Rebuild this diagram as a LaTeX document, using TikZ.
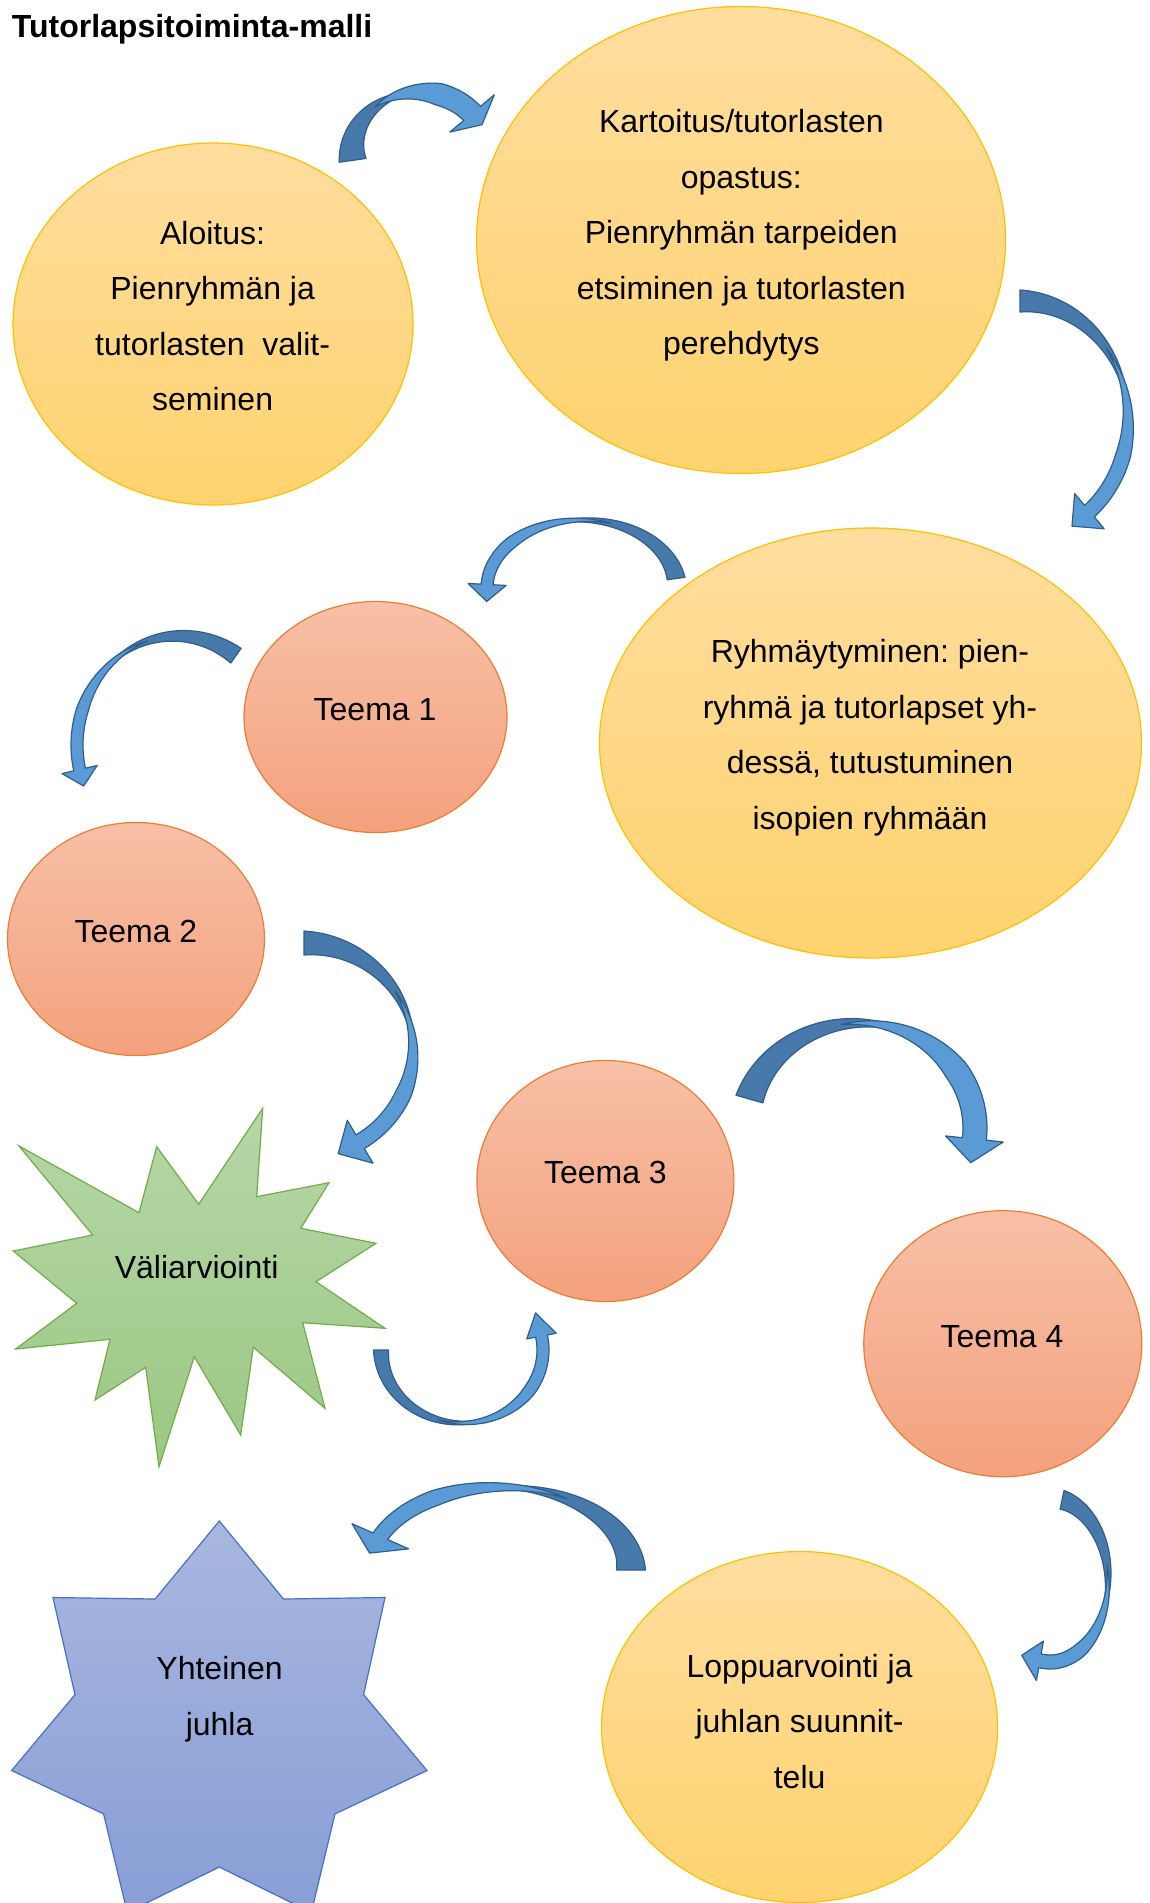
\documentclass[tikz,border=0pt]{standalone}
\usepackage{fontspec}
\setmainfont{Liberation Sans}
\usetikzlibrary{shapes.geometric,calc}

\definecolor{yelTop}{HTML}{FFDD9E}
\definecolor{yelBot}{HTML}{FFD36F}
\definecolor{yelLine}{HTML}{FFC000}
\definecolor{salTop}{HTML}{F7C0A7}
\definecolor{salBot}{HTML}{F4A17D}
\definecolor{salLine}{HTML}{ED7D31}
\definecolor{grnTop}{HTML}{B6D7A8}
\definecolor{grnBot}{HTML}{9BC783}
\definecolor{grnLine}{HTML}{70AD47}
\definecolor{bluTop}{HTML}{A9B7E0}
\definecolor{bluBot}{HTML}{889ED5}
\definecolor{bluLine}{HTML}{4472C4}
\definecolor{arrLight}{HTML}{5B9BD5}
\definecolor{arrDark}{HTML}{477AAB}
\definecolor{arrLine}{HTML}{2F5E8E}

\pgfkeys{/carr/.cd,
 cx/.store in=\acx, cy/.store in=\acy, rx/.store in=\arx, ry/.store in=\ary,
 ta/.store in=\ata, tb/.store in=\atb, wa/.store in=\awa, wb/.store in=\awb,
 hw/.store in=\ahw, hl/.store in=\ahl}

\newcommand{\curvarrow}[1]{%
 \pgfkeys{/carr/.cd,#1}%
 \pgfmathsetmacro\atd{(\atb)-(\ata)}%
 \pgfmathsetmacro\atm{(\ata)+0.62*(\atd)}%
 \pgfmathsetmacro\atl{(\ata)+0.38*(\atd)}%
 \pgfmathsetmacro\ahead{(\atb)+4*(\atd)/abs(\atd)}%
 \filldraw[arrowdark] plot[domain=0:1,samples=40,variable=\s]
   ({(\acx)+((\arx)+(\awa)*(1-\s)/2)*cos((\ata)+((\atm)-(\ata))*\s)},
    {(\acy)+((\ary)+(\awa)*(1-\s)/2)*sin((\ata)+((\atm)-(\ata))*\s)})
   -- plot[domain=0:1,samples=40,variable=\s]
   ({(\acx)+((\arx)-(\awa)*\s/2)*cos((\atm)+((\ata)-(\atm))*\s)},
    {(\acy)+((\ary)-(\awa)*\s/2)*sin((\atm)+((\ata)-(\atm))*\s)}) -- cycle;
 \coordinate (hb) at ({(\acx)+(\arx)*cos(\atb)},{(\acy)+(\ary)*sin(\atb)});
 \coordinate (ha) at ({(\acx)+(\arx)*cos(\ahead)},{(\acy)+(\ary)*sin(\ahead)});
 \coordinate (htip) at ($(hb)!\ahl pt!(ha)$);
 \filldraw[arrowlight] plot[domain=0:1,samples=40,variable=\s]
   ({(\acx)+((\arx)+(\awb)*min(1,1.6*\s)/2)*cos((\atl)+((\atb)-(\atl))*\s)},
    {(\acy)+((\ary)+(\awb)*min(1,1.6*\s)/2)*sin((\atl)+((\atb)-(\atl))*\s)})
   -- ({(\acx)+((\arx)+(\ahw))*cos(\atb)},{(\acy)+((\ary)+(\ahw))*sin(\atb)})
   -- (htip)
   -- ({(\acx)+((\arx)-(\ahw))*cos(\atb)},{(\acy)+((\ary)-(\ahw))*sin(\atb)})
   -- plot[domain=0:1,samples=40,variable=\s]
   ({(\acx)+((\arx)-(\awb)*min(1,1.6*(1-\s))/2)*cos((\atb)+((\atl)-(\atb))*\s)},
    {(\acy)+((\ary)-(\awb)*min(1,1.6*(1-\s))/2)*sin((\atb)+((\atl)-(\atb))*\s)}) -- cycle;
}

\tikzset{
 arrowdark/.style={fill=arrDark, draw=arrLine, line width=1.2pt, line join=round},
 arrowlight/.style={fill=arrLight, draw=arrLine, line width=1.2pt, line join=round},
 yelshape/.style={ellipse, draw=yelLine, line width=1.2pt, top color=yelTop, bottom color=yelBot, inner sep=0pt},
 salshape/.style={ellipse, draw=salLine, line width=1.2pt, top color=salTop, bottom color=salBot, inner sep=0pt},
 lbl/.style={align=center, inner sep=0pt, font=\fontsize{32}{55.5}\selectfont},
}

\begin{document}
\frenchspacing
\begin{tikzpicture}[x=1pt,y=-1pt]
\useasboundingbox (0,0) rectangle (1149,1903);
\fill[white] (0,0) rectangle (1149,1903);
\clip (0,0) rectangle (1149,1903);

% title
\node[anchor=base west, inner sep=0pt, font=\fontsize{32}{38}\selectfont\bfseries] (title) at (11.7,37.5) {Tutorlapsitoiminta-malli};

% ellipses
\node[yelshape, minimum width=400pt, minimum height=362pt] (aloitus) at (213,324) {};
\node[yelshape, minimum width=529pt, minimum height=467pt] (kartoitus) at (741,240) {};
\node[yelshape, minimum width=542pt, minimum height=430pt] (ryhma) at (870.5,743) {};
\node[salshape, minimum width=263pt, minimum height=231pt] (teema1) at (375.5,717) {};
\node[salshape, minimum width=257pt, minimum height=233pt] (teema2) at (136,939) {};
\node[salshape, minimum width=257pt, minimum height=241pt] (teema3) at (605.4,1181) {};
\node[salshape, minimum width=278pt, minimum height=266pt] (teema4) at (1002.8,1343.7) {};
\node[yelshape, minimum width=396pt, minimum height=351pt] (loppu) at (799.6,1727) {};

% green star
\path[draw=grnLine, line width=1.2pt, line join=miter, top color=grnTop, bottom color=grnBot]
 (262.7,1108.3) -- (256.7,1196.7) -- (329,1182.7) -- (300.7,1228.3) -- (376,1243.3) -- (316,1281.7)
 -- (385,1328.3) -- (302.7,1322.7) -- (325,1408.3) -- (253.3,1347.3) -- (240.7,1435) -- (194.3,1356.7)
 -- (159,1466.7) -- (145.7,1367.3) -- (95,1400) -- (110,1339.3) -- (15.7,1349) -- (76.7,1303.3)
 -- (13.3,1251) -- (92.7,1235) -- (19,1146) -- (139,1212.7) -- (156.7,1146.7) -- (198.7,1204.3) -- cycle;

% blue star
\path[draw=bluLine, line width=1.2pt, top color=bluTop, bottom color=bluBot]
 (219.3,1521) -- (283.5,1599) -- (385.0,1597.5) -- (363.6,1694.6) -- (427.0,1770.5) -- (335.0,1813.9)
 -- (311.3,1912.5) -- (219.3,1867) -- (127.3,1912.5) -- (103.6,1813.9) -- (11.6,1770.5) -- (75.0,1694.6)
 -- (53.0,1597.5) -- (155.1,1599) -- cycle;

% texts
\node[lbl] (aloitusT) at (212.6,316) {Aloitus:\\Pienryhmän ja\\tutorlasten\ \ valit-\\seminen};
\node[lbl] (kartoitusT) at (741.3,235.5) {Kartoitus/tutorlasten\\opastus:\\Pienryhmän tarpeiden\\etsiminen ja tutorlasten\\perehdytys};
\node[lbl] (ryhmaT) at (870,737.5) {Ryhmäytyminen: pien-\\ryhmä ja tutorlapset yh-\\dessä, tutustuminen\\isopien ryhmään};
\node[lbl] (teema1T) at (375,709.5) {Teema 1};
\node[lbl] (teema2T) at (135.9,931) {Teema 2};
\node[lbl] (teema3T) at (605.4,1172.5) {Teema 3};
\node[lbl] (teema4T) at (1002,1336.5) {Teema 4};
\node[lbl] (valiT) at (196.6,1266.7) {Väliarviointi};
\node[lbl] (juhlaT) at (219.6,1699) {Yhteinen\\juhla};
\node[lbl] (loppuT) at (799.6,1721.5) {Loppuarvointi ja\\juhlan suunnit-\\telu};

% curved arrows
\curvarrow{cx=420,cy=152,rx=68,ry=60,ta=172,tb=320,wa=27,wb=22,hw=29,hl=15}
\curvarrow{cx=1020,cy=420,rx=108,ry=119,ta=-90,tb=50,wa=22,wb=15,hw=23,hl=23}
\curvarrow{cx=582,cy=588,rx=95,ry=68,ta=-8,tb=-177,wa=18,wb=12,hw=19,hl=17}
\curvarrow{cx=178,cy=745,rx=101,ry=109,ta=-55,tb=-193,wa=18,wb=12,hw=18,hl=17}
\curvarrow{cx=304,cy=1050,rx=109,ry=107,ta=-90,tb=59,wa=24,wb=16,hw=25,hl=25}
\curvarrow{cx=462,cy=1350,rx=81,ry=73,ta=180,tb=-11,wa=15,wb=12,hw=15,hl=24}
\curvarrow{cx=860,cy=1128,rx=115,ry=105,ta=-164,tb=6,wa=28,wb=24,hw=29,hl=24}
\curvarrow{cx=1050,cy=1580,rx=58,ry=82,ta=-78,tb=100,wa=19,wb=14,hw=20,hl=19}
\curvarrow{cx=500,cy=1570,rx=131,ry=83,ta=0,tb=-156,wa=29,wb=16,hw=31,hl=20}
\end{tikzpicture}
\end{document}
